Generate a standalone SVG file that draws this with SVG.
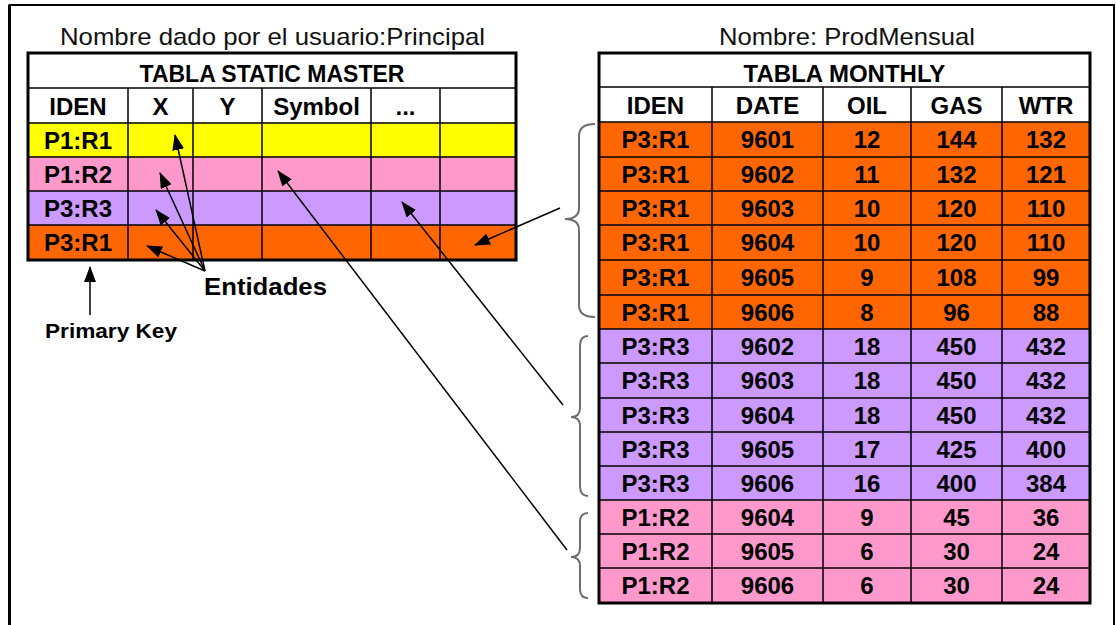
<svg xmlns="http://www.w3.org/2000/svg" width="1116" height="625" viewBox="0 0 1116 625">
<style>
.cap{font-family:"Liberation Sans",Arial,sans-serif;font-size:24px;fill:#111}
.t{font-family:"Liberation Sans",Arial,sans-serif;font-weight:bold;font-size:24px;fill:#000;text-anchor:middle}
.tt{font-family:"Liberation Sans",Arial,sans-serif;font-weight:bold;font-size:23px;fill:#000;text-anchor:middle}
.lbl{font-family:"Liberation Sans",Arial,sans-serif;font-weight:bold;fill:#000}
.grid{stroke:#000;stroke-width:1.5;fill:none}
.outer{stroke:#000;stroke-width:3;fill:none}
.y{fill:#FFFF00}.p{fill:#FF99CC}.v{fill:#CC99FF}.o{fill:#FF6600}.w{fill:#fff}
.con{stroke:#000;stroke-width:1.5;fill:none}
.brace{stroke:#6e6e6e;stroke-width:2;fill:none}
</style>
<defs>
<marker id="ah" viewBox="0 0 16 12" refX="15" refY="6" markerWidth="16" markerHeight="12" markerUnits="userSpaceOnUse" orient="auto">
<path d="M0,0 L16,6 L0,12 z" fill="#000"/>
</marker>
</defs>
<rect width="1116" height="625" fill="#fff"/>
<g id="frame">
<path d="M9.5,625 L9.5,5 L1114,5 L1114,625" stroke="#000" stroke-width="2" fill="none"/>
<line x1="9.5" y1="5" x2="9.5" y2="625" stroke="#000" stroke-width="3"/>
</g>

<g id="caption-principal">
<text class="cap" x="60" y="45" textLength="425" lengthAdjust="spacingAndGlyphs">Nombre dado por el usuario:Principal</text>
</g>

<g id="table-static-master">
<rect class="w" x="28" y="53" width="488" height="70"/>
<rect class="y" x="28" y="123" width="488" height="34"/>
<rect class="p" x="28" y="157" width="488" height="34"/>
<rect class="v" x="28" y="191" width="488" height="34"/>
<rect class="o" x="28" y="225" width="488" height="35"/>
<path class="grid" d="M28,88H516M28,123H516M28,157H516M28,191H516M28,225H516M128,88V260M193,88V260M262,88V260M371,88V260M440,88V260"/>
<rect class="outer" x="28" y="53" width="488" height="207"/>
<text class="tt" x="272" y="82">TABLA STATIC MASTER</text>
<text class="t" x="78" y="115">IDEN</text>
<text class="t" x="160.5" y="115">X</text>
<text class="t" x="227.5" y="115">Y</text>
<text class="t" x="316.5" y="115">Symbol</text>
<text class="t" x="405.5" y="115">...</text>
<text class="t" x="78" y="149">P1:R1</text>
<text class="t" x="78" y="183">P1:R2</text>
<text class="t" x="78" y="217">P3:R3</text>
<text class="t" x="78" y="251">P3:R1</text>
</g>

<g id="caption-prodmensual">
<text class="cap" x="719" y="45" textLength="256" lengthAdjust="spacingAndGlyphs">Nombre: ProdMensual</text>
</g>

<g id="table-monthly">
<rect class="w" x="599" y="53" width="491" height="69"/>
<rect class="o" x="599" y="122" width="491" height="207"/>
<rect class="v" x="599" y="329" width="491" height="171"/>
<rect class="p" x="599" y="500" width="491" height="103"/>
<path class="grid" d="M599,87H1090M599,122H1090M599,157H1090M599,191H1090M599,225H1090M599,260H1090M599,295H1090M599,329H1090M599,363H1090M599,398H1090M599,432H1090M599,466H1090M599,500H1090M599,534H1090M599,568H1090M712,87V603M823,87V603M911,87V603M1002,87V603"/>
<rect class="outer" x="599" y="53" width="491" height="550"/>
<text class="t" x="844.5" y="82" font-size="25">TABLA MONTHLY</text>
<g>
<text class="t" x="655.5" y="114">IDEN</text><text class="t" x="767.5" y="114">DATE</text><text class="t" x="867" y="114">OIL</text><text class="t" x="956.5" y="114">GAS</text><text class="t" x="1046" y="114">WTR</text>
</g>
<g>
<text class="t" x="655.5" y="148">P3:R1</text><text class="t" x="767.5" y="148">9601</text><text class="t" x="867" y="148">12</text><text class="t" x="956.5" y="148">144</text><text class="t" x="1046" y="148">132</text>
<text class="t" x="655.5" y="183">P3:R1</text><text class="t" x="767.5" y="183">9602</text><text class="t" x="867" y="183">11</text><text class="t" x="956.5" y="183">132</text><text class="t" x="1046" y="183">121</text>
<text class="t" x="655.5" y="217">P3:R1</text><text class="t" x="767.5" y="217">9603</text><text class="t" x="867" y="217">10</text><text class="t" x="956.5" y="217">120</text><text class="t" x="1046" y="217">110</text>
<text class="t" x="655.5" y="251">P3:R1</text><text class="t" x="767.5" y="251">9604</text><text class="t" x="867" y="251">10</text><text class="t" x="956.5" y="251">120</text><text class="t" x="1046" y="251">110</text>
<text class="t" x="655.5" y="286">P3:R1</text><text class="t" x="767.5" y="286">9605</text><text class="t" x="867" y="286">9</text><text class="t" x="956.5" y="286">108</text><text class="t" x="1046" y="286">99</text>
<text class="t" x="655.5" y="321">P3:R1</text><text class="t" x="767.5" y="321">9606</text><text class="t" x="867" y="321">8</text><text class="t" x="956.5" y="321">96</text><text class="t" x="1046" y="321">88</text>
<text class="t" x="655.5" y="355">P3:R3</text><text class="t" x="767.5" y="355">9602</text><text class="t" x="867" y="355">18</text><text class="t" x="956.5" y="355">450</text><text class="t" x="1046" y="355">432</text>
<text class="t" x="655.5" y="389">P3:R3</text><text class="t" x="767.5" y="389">9603</text><text class="t" x="867" y="389">18</text><text class="t" x="956.5" y="389">450</text><text class="t" x="1046" y="389">432</text>
<text class="t" x="655.5" y="424">P3:R3</text><text class="t" x="767.5" y="424">9604</text><text class="t" x="867" y="424">18</text><text class="t" x="956.5" y="424">450</text><text class="t" x="1046" y="424">432</text>
<text class="t" x="655.5" y="458">P3:R3</text><text class="t" x="767.5" y="458">9605</text><text class="t" x="867" y="458">17</text><text class="t" x="956.5" y="458">425</text><text class="t" x="1046" y="458">400</text>
<text class="t" x="655.5" y="492">P3:R3</text><text class="t" x="767.5" y="492">9606</text><text class="t" x="867" y="492">16</text><text class="t" x="956.5" y="492">400</text><text class="t" x="1046" y="492">384</text>
<text class="t" x="655.5" y="526">P1:R2</text><text class="t" x="767.5" y="526">9604</text><text class="t" x="867" y="526">9</text><text class="t" x="956.5" y="526">45</text><text class="t" x="1046" y="526">36</text>
<text class="t" x="655.5" y="560">P1:R2</text><text class="t" x="767.5" y="560">9605</text><text class="t" x="867" y="560">6</text><text class="t" x="956.5" y="560">30</text><text class="t" x="1046" y="560">24</text>
<text class="t" x="655.5" y="594">P1:R2</text><text class="t" x="767.5" y="594">9606</text><text class="t" x="867" y="594">6</text><text class="t" x="956.5" y="594">30</text><text class="t" x="1046" y="594">24</text>
</g>
</g>

<g id="brace-p3r1"><path class="brace" d="M595,124 Q579,124 579,136 L579,208 Q579,219 565,219 Q579,219 579,230 L579,305 Q579,317 595,317"/></g>
<g id="brace-p3r3"><path class="brace" d="M588,336 Q580,336 580,346 L580,408 Q580,417 571,417 Q580,417 580,426 L580,486 Q580,496 588,496"/></g>
<g id="brace-p1r2"><path class="brace" d="M588,513 Q580,513 580,522 L580,548 Q580,557 571,557 Q580,557 580,566 L580,589 Q580,598 588,598"/></g>

<g id="label-entidades">
<text class="lbl" x="204" y="295" font-size="24" textLength="123" lengthAdjust="spacingAndGlyphs">Entidades</text>
</g>
<g id="label-primary-key">
<text class="lbl" x="45" y="338" font-size="20" textLength="132" lengthAdjust="spacingAndGlyphs">Primary Key</text>
</g>

<g id="connectors">
<line class="con" x1="90" y1="315" x2="90" y2="267" marker-end="url(#ah)"/>
<line class="con" x1="205" y1="271" x2="175" y2="135" marker-end="url(#ah)"/>
<line class="con" x1="205" y1="271" x2="160" y2="173" marker-end="url(#ah)"/>
<line class="con" x1="205" y1="271" x2="156" y2="210" marker-end="url(#ah)"/>
<line class="con" x1="205" y1="271" x2="147" y2="246" marker-end="url(#ah)"/>
<line class="con" x1="560" y1="208" x2="475" y2="245" marker-end="url(#ah)"/>
<line class="con" x1="563" y1="405" x2="402" y2="202" marker-end="url(#ah)"/>
<line class="con" x1="567" y1="550" x2="278" y2="171" marker-end="url(#ah)"/>
</g>
</svg>
